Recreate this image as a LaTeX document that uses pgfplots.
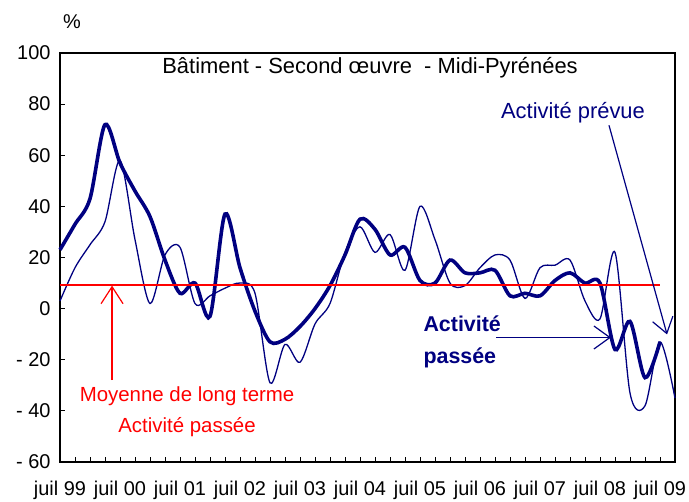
\documentclass[border=0pt]{standalone}
\usepackage{pgfplots}
\pgfplotsset{compat=1.18}
\usepackage{pgfplotstable}
\usepackage{fontspec}
\setmainfont{Liberation Sans}
\usetikzlibrary{arrows.meta}
\definecolor{navy}{RGB}{0,0,128}
\definecolor{rouge}{RGB}{255,0,0}

% quarterly balances of opinion, q=0 is juil 99
\pgfplotstableread{
q prev pass
0 3 23
1 16 33
2 25 43
3 34 72
4 58 57
5 27 46
6 2 36
7 21 19
8 24 6
9 2 10
10 5 -3
11 8 37
12 10 16
13 6 -1
14 -29 -13
15 -14 -12
16 -21 -7
17 -6 0
18 2 9
19 22 21
20 32 35
21 22 31
22 29 21
23 15 24
24 40 11
25 27 10
26 10 19
27 9 14
28 16 14
29 21 15
30 19 5
31 4 6
32 16 5
33 17 11
34 19 14
35 3 10
36 -4 10
37 22 -16
38 -33 -5
39 -38 -27
40 -13 -13
41 -35 nan
}\data

\begin{document}
\begin{tikzpicture}[font=\fontsize{20}{24}\selectfont]
\useasboundingbox (-60bp,-40bp) rectangle (629bp,462bp);
\begin{axis}[
    at={(0,0)}, anchor=south west,
    scale only axis,
    width=615bp, height=409bp,
    xmin=0, xmax=41,
    ymin=-60, ymax=100,
    clip=false,
    axis line style={black, line width=1.3bp},
    tick pos=left,
    tick align=inside,
    major tick length=5bp,
    minor tick length=5bp,
    tick style={black, line width=0.9bp},
    xtick={0,4,...,40},
    minor xtick={0,...,41},
    xticklabels={juil 99,juil 00,juil 01,juil 02,juil 03,juil 04,juil 05,juil 06,juil 07,juil 08,juil 09},
    ytick={-60,-40,...,100},
    yticklabels={- 60,- 40,- 20,0,20,40,60,80,100},
    xticklabel style={yshift=-16bp},
    yticklabel style={xshift=-6bp},
]
\addplot[navy, line width=1.3bp, smooth] table[x=q, y=prev] {\data};
\addplot[navy, line width=3.6bp, smooth] table[x=q, y=pass] {\data};
\addplot[rouge, line width=1.5bp] coordinates {(0,9.3) (40,9.3)};

\node at (axis cs:0.8,112.2) {\%};
\node[font=\fontsize{22}{26}\selectfont] at (axis cs:20.67,94.3) {Bâtiment - Second œuvre\ \ - Midi-Pyrénées};
\node[navy, font=\fontsize{22}{26}\selectfont] at (axis cs:34.2,76.7) {Activité prévue};
\draw[navy, line width=1.2bp, -{Straight Barb[length=15bp,width=21bp]}]
    (axis cs:36.6,71.7) -- (axis cs:40.47,-10.1);
\node[navy, font=\fontsize{21.5}{32}\selectfont\bfseries, align=left, anchor=west]
    at (axis cs:24.0,-12.9) {Activité\\passée};
\draw[navy, line width=1.2bp, -{Straight Barb[length=16bp,width=23bp]}]
    (axis cs:29.07,-11.3) -- (axis cs:36.73,-11.3);
\node[rouge, align=center, font=\fontsize{20.5}{31}\selectfont]
    at (axis cs:8.47,-40.3) {Moyenne de long terme\\Activité passée};
\draw[rouge, line width=1.2bp, -{Straight Barb[length=17bp,width=22bp]}]
    (axis cs:3.47,-28) -- (axis cs:3.47,9.0);
\end{axis}
\end{tikzpicture}
\end{document}
